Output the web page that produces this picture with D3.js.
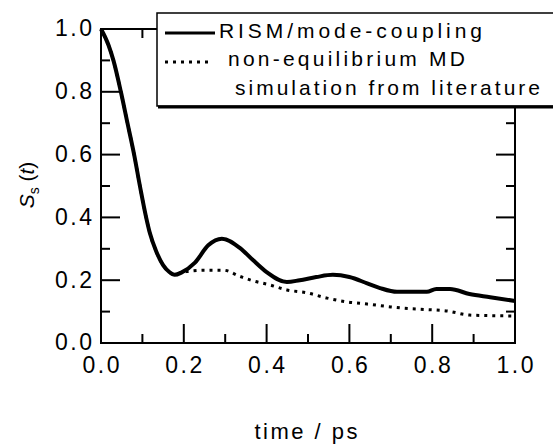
<!DOCTYPE html>
<html>
<head>
<meta charset="utf-8">
<script src="https://cdn.jsdelivr.net/npm/d3@7"></script>
<style>
  html, body { margin: 0; padding: 0; background: #fff; }
  svg { display: block; }
  text { font-family: "Liberation Sans", Arial, Helvetica, sans-serif; fill: #000; }
</style>
</head>
<body>
<svg id="chart" width="553" height="446"></svg>
<script>
// ---- data ----
const rismTime = [0, 0.018, 0.030, 0.048, 0.064, 0.080, 0.094, 0.109, 0.118, 0.134, 0.150, 0.165, 0.178, 0.195, 0.227, 0.259, 0.292, 0.336, 0.367, 0.40, 0.449, 0.48, 0.52, 0.56, 0.60, 0.643, 0.674, 0.715, 0.787, 0.81, 0.843, 0.89, 0.94, 1.0];
const rismValue = [1.0, 0.949, 0.90, 0.80, 0.70, 0.60, 0.50, 0.40, 0.35, 0.29, 0.248, 0.226, 0.217, 0.225, 0.256, 0.311, 0.332, 0.302, 0.264, 0.226, 0.194, 0.200, 0.210, 0.217, 0.210, 0.190, 0.175, 0.163, 0.163, 0.172, 0.172, 0.156, 0.146, 0.134];
const mdTime = [0, 0.018, 0.030, 0.048, 0.064, 0.080, 0.094, 0.109, 0.118, 0.134, 0.150, 0.165, 0.178, 0.195, 0.21, 0.25, 0.295, 0.336, 0.367, 0.408, 0.449, 0.497, 0.546, 0.594, 0.643, 0.70, 0.73, 0.78, 0.836, 0.89, 0.95, 1.0];
const mdValue = [1.0, 0.949, 0.90, 0.80, 0.70, 0.60, 0.50, 0.40, 0.35, 0.29, 0.248, 0.226, 0.217, 0.225, 0.228, 0.232, 0.232, 0.212, 0.198, 0.185, 0.169, 0.160, 0.143, 0.131, 0.124, 0.115, 0.111, 0.107, 0.102, 0.089, 0.087, 0.086];
const majorTicks = [0.0, 0.2, 0.4, 0.6, 0.8, 1.0];
const minorTicks = [0.1, 0.3, 0.5, 0.7, 0.9];
const legendLabels = ["RISM/mode-coupling", "non-equilibrium MD", "simulation from literature"];
const xTitle = "time / ps";

// ---- layout ----
const svg = d3.select("#chart");
const L = 101, R = 515, T = 29, B = 343;
const x = d3.scaleLinear().domain([0, 1]).range([L, R]);
const y = d3.scaleLinear().domain([0, 1]).range([B, T]);
const fmt = d3.format(".1f");

// ---- curves ----
const line = d3.line().x(d => x(d[0])).y(d => y(d[1])).curve(d3.curveMonotoneX);
const rism = rismTime.map((t, i) => [t, rismValue[i]]);
const md = mdTime.map((t, i) => [t, mdValue[i]]);

svg.append("path").datum(md).attr("d", line)
  .attr("fill", "none").attr("stroke", "#000").attr("stroke-width", 3)
  .attr("stroke-dasharray", "3,5");
svg.append("path").datum(rism).attr("d", line)
  .attr("fill", "none").attr("stroke", "#000").attr("stroke-width", 4)
  .attr("stroke-linejoin", "round");

// ---- ticks (inside, drawn from the scales) ----
const tg = svg.append("g").attr("stroke", "#000").attr("stroke-width", 2);
const tickSets = [[majorTicks.slice(1, -1), 19], [minorTicks, 9]];
tickSets.forEach(([vals, len]) => {
  tg.selectAll(null).data(vals).enter().append("line")
    .attr("x1", d => x(d)).attr("x2", d => x(d)).attr("y1", B).attr("y2", B - len);
  tg.selectAll(null).data(vals).enter().append("line")
    .attr("x1", d => x(d)).attr("x2", d => x(d)).attr("y1", T).attr("y2", T + len);
  tg.selectAll(null).data(vals).enter().append("line")
    .attr("y1", d => y(d)).attr("y2", d => y(d)).attr("x1", L).attr("x2", L + len);
  tg.selectAll(null).data(vals).enter().append("line")
    .attr("y1", d => y(d)).attr("y2", d => y(d)).attr("x1", R).attr("x2", R - len);
});

// tick labels
svg.append("g").selectAll("text").data(majorTicks).enter().append("text")
  .attr("x", d => x(d)).attr("y", 373).attr("text-anchor", "middle")
  .attr("font-size", 23).attr("textLength", 37).attr("lengthAdjust", "spacing")
  .text(fmt);
svg.append("g").selectAll("text").data(majorTicks).enter().append("text")
  .attr("x", L - 9).attr("y", d => y(d)).attr("dy", "0.32em").attr("text-anchor", "end")
  .attr("font-size", 23).attr("textLength", 37).attr("lengthAdjust", "spacing")
  .text(fmt);

// frame
svg.append("rect").attr("x", L).attr("y", T).attr("width", R - L).attr("height", B - T)
  .attr("fill", "none").attr("stroke", "#000").attr("stroke-width", 2);

// ---- legend ----
const lg = svg.append("g");
lg.append("rect").attr("x", 157).attr("y", 13).attr("width", 420).attr("height", 93)
  .attr("fill", "#fff").attr("stroke", "#000").attr("stroke-width", 1.5);
lg.append("line").attr("x1", 158).attr("x2", 560).attr("y1", 107).attr("y2", 107)
  .attr("stroke", "#000").attr("stroke-width", 3);
lg.append("line").attr("x1", 165).attr("x2", 215).attr("y1", 33).attr("y2", 33)
  .attr("stroke", "#000").attr("stroke-width", 3);
lg.append("line").attr("x1", 165).attr("x2", 212).attr("y1", 62).attr("y2", 62)
  .attr("stroke", "#000").attr("stroke-width", 3).attr("stroke-dasharray", "3,5");
const legPos = [[219, 38, 263], [228, 66, 237], [235, 95, 305]];
legendLabels.forEach((s, i) => {
  lg.append("text").attr("x", legPos[i][0]).attr("y", legPos[i][1])
    .attr("font-size", 21).attr("textLength", legPos[i][2]).attr("lengthAdjust", "spacing")
    .text(s);
});

// ---- axis titles ----
svg.append("text").attr("x", 306).attr("y", 439).attr("text-anchor", "middle")
  .attr("font-size", 22).attr("textLength", 103).attr("lengthAdjust", "spacing")
  .text(xTitle);

const yt = svg.append("text").attr("transform", "translate(34,185) rotate(-90)")
  .attr("text-anchor", "middle").attr("font-size", 21);
yt.append("tspan").attr("font-style", "italic").text("S");
yt.append("tspan").attr("font-size", 14).attr("dy", 5).text("s");
yt.append("tspan").attr("dy", -5).text(" (");
yt.append("tspan").attr("font-style", "italic").text("t");
yt.append("tspan").text(")");
</script>
</body>
</html>
